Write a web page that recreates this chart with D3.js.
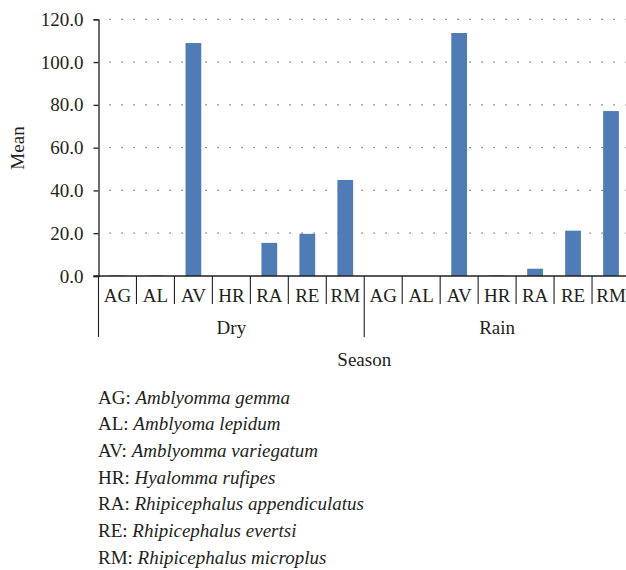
<!DOCTYPE html>
<html>
<head>
<meta charset="utf-8">
<script src="https://cdn.jsdelivr.net/npm/d3@7"></script>
<style>
  body { margin: 0; background: #fff; overflow: hidden; }
  svg text { font-family: "Liberation Serif", "Times New Roman", serif; fill: #231f20; }
</style>
</head>
<body>
<div id="chart"></div>
<script>
// species codes and seasons
const species = ["AG", "AL", "AV", "HR", "RA", "RE", "RM"];
const seasons = ["Dry", "Rain"];
// mean counts per species
const dryValues = [0.3, 0.3, 108.9, 0, 15.5, 19.7, 44.9];
const rainValues = [0, 0, 113.6, 0.3, 3.4, 21.2, 77.1];
const yTicks = [0, 20, 40, 60, 80, 100, 120];
const legendNames = [
    ["AG", "Amblyomma gemma"],
    ["AL", "Amblyoma lepidum"],
    ["AV", "Amblyomma variegatum"],
    ["HR", "Hyalomma rufipes"],
    ["RA", "Rhipicephalus appendiculatus"],
    ["RE", "Rhipicephalus evertsi"],
    ["RM", "Rhipicephalus microplus"]
];

const width = 626, height = 570;
// the figure is cut at the right edge, so the plot runs a bit past the window
const plotLeft = 98.5, plotRight = 630, plotTop = 19.3, plotBottom = 276;
const fontSize = "19px";

const svg = d3.select("#chart").append("svg")
    .attr("width", width)
    .attr("height", height);

// flatten to one row per bar
let rows = [];
seasons.forEach((s, i) => {
    let vals = i === 0 ? dryValues : rainValues;
    species.forEach((sp, j) => rows.push({key: s + "-" + sp, season: s, sp: sp, value: vals[j]}));
});

const x = d3.scaleBand()
    .domain(rows.map(d => d.key))
    .range([plotLeft, plotRight])
    .paddingInner(0.585)
    .paddingOuter(0.2925);

const y = d3.scaleLinear()
    .domain([0, 120])
    .range([plotBottom, plotTop]);

// dotted gridlines
svg.append("g")
    .selectAll("line")
    .data(yTicks.filter(t => t > 0))
    .join("line")
    .attr("x1", plotLeft + 11)
    .attr("x2", plotRight)
    .attr("y1", d => y(d))
    .attr("y2", d => y(d))
    .attr("stroke", "#555")
    .attr("stroke-width", 1.2)
    .attr("stroke-dasharray", "1.2,10.8");

// bars
svg.append("g")
    .selectAll("rect")
    .data(rows)
    .join("rect")
    .attr("x", d => x(d.key))
    .attr("width", x.bandwidth())
    .attr("y", d => y(d.value))
    .attr("height", d => plotBottom - y(d.value))
    .attr("fill", "#4f7cb4");

// y axis
const yAxis = d3.axisLeft(y)
    .tickValues(yTicks)
    .tickFormat(d3.format(".1f"))
    .tickSize(5)
    .tickPadding(10);

const gy = svg.append("g")
    .attr("transform", `translate(${plotLeft},0)`)
    .call(yAxis);
gy.select(".domain").attr("stroke", "#231f20").attr("stroke-width", 1.3);
gy.selectAll(".tick line").attr("stroke", "#231f20").attr("stroke-width", 1.3);
gy.selectAll(".tick text")
    .style("font-size", fontSize)
    .style("font-family", '"Liberation Serif", serif')
    .attr("fill", "#231f20");

// baseline
svg.append("line")
    .attr("x1", plotLeft - 5).attr("x2", plotRight)
    .attr("y1", plotBottom).attr("y2", plotBottom)
    .attr("stroke", "#231f20").attr("stroke-width", 1.3);

// category separators and labels
const step = x.step();
let seps = d3.range(0, rows.length);
svg.append("g")
    .selectAll("line")
    .data(seps)
    .join("line")
    .attr("x1", i => plotLeft + i * step)
    .attr("x2", i => plotLeft + i * step)
    .attr("y1", plotBottom)
    .attr("y2", i => (i % species.length === 0) ? 337 : 304)
    .attr("stroke", "#231f20")
    .attr("stroke-width", 1.1);

svg.append("g")
    .selectAll("text")
    .data(rows)
    .join("text")
    .attr("x", (d, i) => plotLeft + (i + 0.5) * step)
    .attr("y", 301.5)
    .attr("text-anchor", "middle")
    .style("font-size", fontSize)
    .text(d => d.sp);

svg.append("g")
    .selectAll("text")
    .data(seasons)
    .join("text")
    .attr("x", (d, i) => plotLeft + (i * species.length + species.length / 2) * step)
    .attr("y", 333.5)
    .attr("text-anchor", "middle")
    .style("font-size", fontSize)
    .text(d => d);

svg.append("text")
    .attr("x", (plotLeft + plotRight) / 2)
    .attr("y", 365.5)
    .attr("text-anchor", "middle")
    .style("font-size", fontSize)
    .text("Season");

svg.append("text")
    .attr("transform", "translate(23.5,148) rotate(-90)")
    .attr("text-anchor", "middle")
    .style("font-size", fontSize)
    .text("Mean");

// species key under the chart
const key = svg.append("g")
    .selectAll("text")
    .data(legendNames)
    .join("text")
    .attr("x", 98)
    .attr("y", (d, i) => 403.5 + i * 26.7)
    .style("font-size", fontSize);
key.append("tspan").text(d => d[0] + ": ");
key.append("tspan").attr("font-style", "italic").text(d => d[1]);
</script>
</body>
</html>
